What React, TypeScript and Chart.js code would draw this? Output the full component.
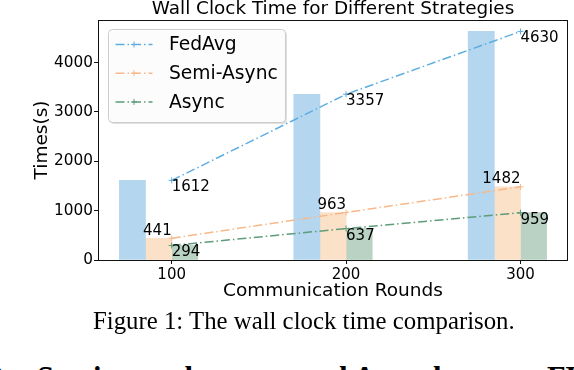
import React, { useEffect, useRef } from "react";
import { Chart, registerables } from "chart.js";
Chart.register(...registerables);

const rounds = [100, 200, 300];
const seriesNames = ["FedAvg", "Semi-Async", "Async"];
const fedAvgTimes = [1612, 3357, 4630];
const semiAsyncTimes = [441, 963, 1482];
const asyncTimes = [294, 637, 959];
const yTickValues = [0, 1000, 2000, 3000, 4000];
const chartTitle = "Wall Clock Time for Different Strategies";
const xTitle = "Communication Rounds";
const yTitle = "Times(s)";
const caption = "Figure 1: The wall clock time comparison.";
const headingNumber = "2";
const headingText = "Semi-asynchronous and Asynchronous FL";

const lineColors = ["#5dade2", "#f7b98b", "#5e9c7a"];
const barColors = ["#b4d6ee", "#fbe1c8", "#b9d2c3"];
const BAR_W = 15; // bar width in x-data units
const barOffsets = [-1.5, -0.5, 0.5];
const labelPlacement = ["leftTop", "rightBottom", "leftTop"];
const DASH = [9, 3, 1.5, 3];
const FONT = "DejaVu Sans";

const allSeries = [fedAvgTimes, semiAsyncTimes, asyncTimes];

const xLo = rounds[0] - 2 * BAR_W;
const xHi = rounds[rounds.length - 1] + BAR_W;
const xMargin = (xHi - xLo) * 0.05;
const yMax = Math.max(...fedAvgTimes, ...semiAsyncTimes, ...asyncTimes) * 1.05;

const framePlugin = {
  id: "frame",
  afterDatasetsDraw(chart: any) {
    const { ctx, chartArea: a } = chart;
    ctx.save();
    ctx.strokeStyle = "#111";
    ctx.lineWidth = 1;
    ctx.strokeRect(Math.round(a.left) + 0.5, Math.round(a.top) + 0.5, Math.round(a.right - a.left) - 1, Math.round(a.bottom - a.top));
    ctx.restore();
  },
};

const valueLabelPlugin = {
  id: "valueLabels",
  afterDatasetsDraw(chart: any) {
    const { ctx } = chart;
    const xs = chart.scales.x;
    const ys = chart.scales.y;
    ctx.save();
    ctx.fillStyle = "#000";
    ctx.font = `15px "${FONT}"`;
    ctx.textBaseline = "alphabetic";
    allSeries.forEach((vals, j) => {
      vals.forEach((v, i) => {
        const px = xs.getPixelForValue(rounds[i]);
        const py = ys.getPixelForValue(v);
        if (labelPlacement[j] === "leftTop") {
          ctx.textAlign = "left";
          ctx.fillText(String(v), px, py + 11);
        } else {
          ctx.textAlign = "right";
          ctx.fillText(String(v), px, py - 3.5);
        }
      });
    });
    ctx.restore();
  },
};

const legendPlugin = {
  id: "innerLegend",
  afterDraw(chart: any) {
    const { ctx, chartArea: a } = chart;
    const x0 = Math.round(a.left) + 10.5;
    const y0 = Math.round(a.top) + 9.5;
    const w = 177;
    const h = 93;
    const r = 4;
    const rr = (x: number, y: number) => {
      ctx.beginPath();
      ctx.moveTo(x + r, y);
      ctx.lineTo(x + w - r, y);
      ctx.quadraticCurveTo(x + w, y, x + w, y + r);
      ctx.lineTo(x + w, y + h - r);
      ctx.quadraticCurveTo(x + w, y + h, x + w - r, y + h);
      ctx.lineTo(x + r, y + h);
      ctx.quadraticCurveTo(x, y + h, x, y + h - r);
      ctx.lineTo(x, y + r);
      ctx.quadraticCurveTo(x, y, x + r, y);
      ctx.closePath();
    };
    ctx.save();
    rr(x0 + 1.5, y0 + 1.5);
    ctx.fillStyle = "rgba(0,0,0,0.12)";
    ctx.fill();
    rr(x0, y0);
    ctx.fillStyle = "rgba(255,255,255,0.9)";
    ctx.fill();
    ctx.strokeStyle = "#cccccc";
    ctx.lineWidth = 1;
    ctx.stroke();
    seriesNames.forEach((name, j) => {
      const ly = y0 + 15 + j * 28.7;
      ctx.strokeStyle = lineColors[j];
      ctx.lineWidth = 1.5;
      ctx.setLineDash(DASH);
      ctx.beginPath();
      ctx.moveTo(x0 + 7, ly);
      ctx.lineTo(x0 + 44, ly);
      ctx.stroke();
      ctx.setLineDash([]);
      const mx = x0 + 25.5;
      ctx.lineWidth = 1;
      ctx.beginPath();
      ctx.moveTo(mx - 3, ly);
      ctx.lineTo(mx + 3, ly);
      ctx.moveTo(mx, ly - 3);
      ctx.lineTo(mx, ly + 3);
      ctx.stroke();
      ctx.fillStyle = "#000";
      ctx.font = `18.7px "${FONT}"`;
      ctx.textAlign = "left";
      ctx.textBaseline = "middle";
      ctx.fillText(name, x0 + 60.5, ly + 1);
    });
    ctx.restore();
  },
};

export default function App() {
  const canvasRef = useRef<HTMLCanvasElement | null>(null);

  useEffect(() => {
    const canvas = canvasRef.current;
    if (!canvas) return;
    const barSets = allSeries.map((vals, j) => ({
      type: "bar" as const,
      label: seriesNames[j] + " bar",
      data: rounds.map((r, i) => ({ x: r + barOffsets[j] * BAR_W, y: vals[i] })),
      backgroundColor: barColors[j],
      borderWidth: 0,
      grouped: false,
      categoryPercentage: 1,
      barPercentage: 1,
      order: 2,
    }));
    const lineSets = allSeries.map((vals, j) => ({
      type: "line" as const,
      label: seriesNames[j],
      data: rounds.map((r, i) => ({ x: r, y: vals[i] })),
      borderColor: lineColors[j],
      backgroundColor: lineColors[j],
      borderWidth: 1.5,
      borderDash: DASH,
      pointStyle: "cross",
      pointRadius: 3,
      pointBorderWidth: 1,
      pointBorderColor: lineColors[j],
      fill: false,
      tension: 0,
      order: 1,
    }));
    const chart = new Chart(canvas, {
      type: "bar",
      data: { datasets: [...barSets, ...lineSets] as any },
      options: {
        responsive: false,
        maintainAspectRatio: false,
        animation: false,
        layout: { padding: { left: 0, right: 6, top: 0, bottom: 0 } },
        plugins: {
          legend: { display: false },
          tooltip: { enabled: false },
          title: {
            display: true,
            fullSize: false,
            text: chartTitle,
            color: "#000",
            font: { family: FONT, size: 18.4, weight: "normal", lineHeight: 1 },
            padding: { top: 0, bottom: 1.6 },
          },
        },
        scales: {
          x: {
            type: "linear",
            offset: false,
            min: xLo - xMargin,
            max: xHi + xMargin,
            afterBuildTicks: (s: any) => {
              s.ticks = rounds.map((v) => ({ value: v }));
            },
            afterFit: (s: any) => {
              s.height = 50;
            },
            grid: { display: true, offset: false, drawOnChartArea: false, drawTicks: true, tickLength: 4, color: "#111" },
            border: { display: false },
            ticks: {
              color: "#000",
              font: { family: FONT, size: 15 },
              padding: 2,
              maxRotation: 0,
              autoSkip: false,
              callback: (v: any) => String(v),
            },
            title: {
              display: true,
              text: xTitle,
              color: "#000",
              font: { family: FONT, size: 18.5 },
              padding: { top: 0, bottom: 8 },
            },
          },
          y: {
            type: "linear",
            min: 0,
            max: yMax,
            afterBuildTicks: (s: any) => {
              s.ticks = yTickValues.map((v) => ({ value: v }));
            },
            afterFit: (s: any) => {
              s.width = 98;
            },
            grid: { display: true, drawOnChartArea: false, drawTicks: true, tickLength: 4, color: "#111" },
            border: { display: false },
            ticks: {
              color: "#000",
              font: { family: FONT, size: 15.3 },
              padding: 1,
              callback: (v: any) => String(v),
            },
            title: {
              display: true,
              text: yTitle,
              color: "#000",
              font: { family: FONT, size: 18.5 },
              padding: { top: 31, bottom: 0 },
            },
          },
        },
      } as any,
      plugins: [framePlugin, valueLabelPlugin, legendPlugin],
    });
    return () => chart.destroy();
  }, []);

  return (
    <div
      style={{
        position: "absolute",
        left: 0,
        top: 0,
        width: 574,
        height: 370,
        overflow: "hidden",
        background: "#fff",
      }}
    >
      <canvas ref={canvasRef} width={574} height={310} style={{ position: "absolute", left: 0, top: 0 }} />
      <div
        style={{
          position: "absolute",
          left: 93,
          top: 309.2,
          font: '24.8px "Liberation Serif"',
          lineHeight: 1,
          whiteSpace: "nowrap",
          color: "#000",
        }}
      >
        {caption}
      </div>
      <div
        style={{
          position: "absolute",
          left: -12,
          top: 362.5,
          font: 'bold 30.5px "Liberation Serif"',
          lineHeight: 1,
          whiteSpace: "nowrap",
          color: "#000",
        }}
      >
        {headingNumber}
      </div>
      <div
        style={{
          position: "absolute",
          left: 37,
          top: 362.5,
          font: 'bold 30.5px "Liberation Serif"',
          lineHeight: 1,
          whiteSpace: "nowrap",
          color: "#000",
        }}
      >
        {headingText}
      </div>
    </div>
  );
}
